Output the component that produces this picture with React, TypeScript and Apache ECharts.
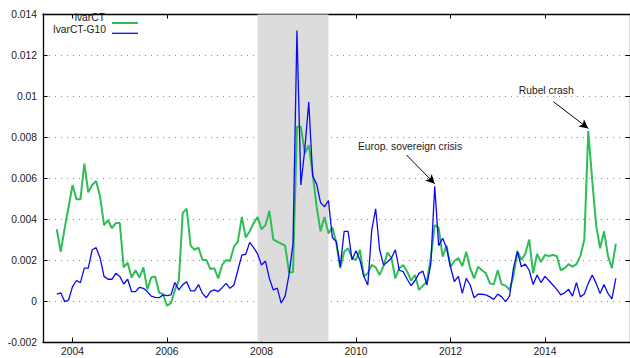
import { useEffect, useRef } from "react";
import * as echarts from "echarts";

// Monthly observations, first one is September 2003
const START_YEAR = 2003;
const START_MONTH = 9;

const lvarCT = [
  0.0035, 0.0024, 0.00355, 0.0046, 0.00566, 0.00496, 0.00496, 0.0067, 0.0053, 0.00566,
  0.00585, 0.0051, 0.0037, 0.00395, 0.00355, 0.0038, 0.0038, 0.00164, 0.00187, 0.00115,
  0.0015, 0.00115, 0.00164, 0.00057, 0.00115, 0.0012, 0.0004, 0.00034, -0.00023, -0.0001,
  0.00054, 0.001, 0.0043, 0.0045, 0.0027, 0.0025, 0.0026, 0.002, 0.002, 0.00156,
  0.0016, 0.0011, 0.00176, 0.002, 0.00195, 0.00265, 0.0029, 0.0041, 0.0031, 0.0034,
  0.0038, 0.0041, 0.0035, 0.0037, 0.0044, 0.003, 0.0029, 0.0028, 0.0027, 0.0014,
  0.0014, 0.0085, 0.0085, 0.0072, 0.0076, 0.0062, 0.0046, 0.0034, 0.0041, 0.0033,
  0.0036, 0.00284, 0.0016, 0.0024, 0.00257, 0.0021, 0.002, 0.0025, 0.0012, 0.00135,
  0.00176, 0.00164, 0.00127, 0.0017, 0.00236, 0.0021, 0.0011, 0.0016, 0.00176, 0.00143,
  0.001, 0.00127, 0.00054, 0.00075, 0.00094, 0.0021, 0.0037, 0.00358, 0.00216, 0.0027,
  0.00167, 0.00195, 0.0021, 0.0017, 0.0024, 0.0016, 0.0011, 0.00167, 0.0015, 0.00135,
  0.00086, 0.00081, 0.0015, 0.00081, 0.00075, 0.00054, 0.0012, 0.00244, 0.002, 0.0023,
  0.003, 0.00135, 0.0023, 0.0019, 0.00224, 0.0022, 0.00224, 0.0022, 0.0015, 0.0016,
  0.0018, 0.00167, 0.0018, 0.0022, 0.003, 0.0083, 0.0059, 0.0037, 0.00257, 0.0034,
  0.0022, 0.0016, 0.0028,
];

const lvarCTG10 = [
  0.00034, 0.0004, -0.00003, 0.00005, 0.0007, 0.001, 0.0009, 0.0016, 0.0016, 0.0025,
  0.0026, 0.0021, 0.0012, 0.00106, 0.00106, 0.00135, 0.0012, 0.00083, 0.00106, 0.00046,
  0.00046, 0.00067, 0.00062, 0.00046, 0.00024, 0.00018, 0.00016, 0.0003, 0.00026, 0.0003,
  0.0009, 0.00054, 0.0008, 0.00094, 0.00049, 0.00049, 0.0008, 0.00037, 0.00016, 0.00046,
  0.00054, 0.00046, 0.00065, 0.00086, 0.00062, 0.00078, 0.0015, 0.00224, 0.00228, 0.00286,
  0.0026, 0.0023, 0.00176, 0.00195, 0.0011, 0.00054, 0.00063, -0.0001, 0.00024, 0.0013,
  0.0028, 0.0132, 0.00566, 0.0074, 0.0097, 0.0061, 0.0057, 0.0048, 0.0046, 0.0049,
  0.0031, 0.0029, 0.00168, 0.0034, 0.0034, 0.002, 0.00245, 0.002, 0.0012, 0.00078,
  0.00346, 0.0045, 0.0025, 0.00176, 0.0019, 0.0021, 0.0025, 0.0015, 0.00143, 0.00106,
  0.00075, 0.001, 0.00135, 0.00146, 0.00078, 0.0018, 0.0056, 0.0027, 0.00306, 0.0026,
  0.00167, 0.00094, 0.0012, 0.00037, 0.0011, 0.00078, 0.00016, 0.00033, 0.00033, 0.0003,
  0.0002, 0.00008, 0.00034, 0.0002, -0.00003, 0.00024, 0.0016, 0.00241, 0.00167, 0.0018,
  0.0015, 0.0008, 0.00127, 0.0009, 0.0012, 0.001, 0.00078, 0.00057, 0.0003, 0.0004,
  0.00057, 0.00024, 0.0009, 0.0002, 0.00034, 0.00086, 0.00127, 0.00086, 0.00037, 0.0008,
  0.00037, 0.0001, 0.0011,
];

const yearTicks = [2004, 2006, 2008, 2010, 2012, 2014];

// Recession period, December 2007 to June 2009
const recessionStart = 2007 + 11 / 12;
const recessionEnd = 2009 + 5 / 12;

const crisisLabels = ["Europ. sovereign crisis", "Rubel crash"];

const X_MIN = 2003.375;
const X_MAX = 2015.8;
const Y_MIN = -0.002;
const Y_MAX = 0.014;

const GREEN = "#2fbd57";
const BLUE = "#0a0af5";
const FONT = "'Liberation Sans', Arial, Helvetica, sans-serif";

const monthToYear = (i: number) => START_YEAR + (START_MONTH - 1 + i) / 12;

export default function App() {
  const ref = useRef<HTMLDivElement>(null);

  useEffect(() => {
    if (!ref.current) return;
    const chart = echarts.init(ref.current, undefined, { renderer: "svg" });

    const frame = { color: "#000", width: 1.3 };
    const tick = { show: true, inside: true, length: 4.5, lineStyle: { color: "#000", width: 1 } };

    const xBase = {
      type: "value" as const,
      min: X_MIN,
      max: X_MAX,
      axisLine: { show: true, onZero: false, lineStyle: frame },
      splitLine: { show: false },
    };
    const yBase = {
      type: "value" as const,
      min: Y_MIN,
      max: Y_MAX,
      interval: 0.002,
      axisLine: { show: true, onZero: false, lineStyle: frame },
      axisTick: tick,
    };

    const greenData = lvarCT.map((v, i) => [monthToYear(i), v]);
    const blueData = lvarCTG10.map((v, i) => [monthToYear(i), v]);

    // peaks the arrows point at
    const euroIdx = 96;
    const rubelIdx = 135;
    const euroPeak = [monthToYear(euroIdx), lvarCTG10[euroIdx] + 0.00012];
    const rubelPeak = [monthToYear(rubelIdx), lvarCT[rubelIdx] + 0.00012];

    const textStyle = { color: "#1a1a1a", fontSize: 10.3, fontFamily: FONT };

    const arrowEnd = (coord: number[]) => ({
      coord,
      symbol: "arrow",
      symbolSize: [7, 9],
      itemStyle: { color: "#000" },
    });
    const arrowStart = (coord: number[]) => ({ coord, symbol: "none" });

    chart.setOption({
      animation: false,
      backgroundColor: "#ffffff",
      textStyle: { fontFamily: FONT },
      grid: { left: 43, right: -2, top: 14, bottom: 16 },
      xAxis: [
        {
          ...xBase,
          position: "bottom",
          axisTick: { ...tick, customValues: yearTicks },
          axisLabel: {
            customValues: yearTicks,
            formatter: (v: number) => String(Math.round(v)),
            ...textStyle,
            margin: 4,
          },
        },
        {
          ...xBase,
          position: "top",
          axisTick: { ...tick, customValues: yearTicks },
          axisLabel: { show: false },
        },
      ],
      yAxis: [
        {
          ...yBase,
          position: "left",
          axisLabel: {
            formatter: (v: number) => String(Math.round(v * 1000) / 1000),
            ...textStyle,
            margin: 6,
            padding: [0, 0, 4, 0],
          },
          splitLine: { show: true, lineStyle: { color: "#8a8a8a", width: 1, type: [1, 5] } },
        },
        {
          ...yBase,
          position: "right",
          axisLabel: { show: false },
          splitLine: { show: false },
        },
      ],
      series: [
        {
          name: "lvarCT",
          type: "line",
          data: greenData,
          symbol: "none",
          lineStyle: { color: GREEN, width: 2 },
          itemStyle: { color: GREEN },
          silent: true,
          markArea: {
            silent: true,
            itemStyle: { color: "#dcdcdc" },
            data: [
              [
                { xAxis: recessionStart, yAxis: Y_MIN + 0.00003 },
                { xAxis: recessionEnd, yAxis: Y_MAX - 0.00003 },
              ],
            ],
          },
          markLine: {
            silent: true,
            symbol: ["none", "arrow"],
            symbolSize: 9,
            label: { show: false },
            itemStyle: { color: "#000" },
            lineStyle: { color: "#000", width: 1, type: "solid" },
            data: [
              [arrowStart([2011.07, 0.00712]), arrowEnd(euroPeak)],
              [arrowStart([2014.18, 0.00972]), arrowEnd(rubelPeak)],
            ],
          },
          markPoint: {
            silent: true,
            symbol: "circle",
            symbolSize: 0,
            label: {
              show: true,
              position: "right",
              distance: 0,
              formatter: "{b}",
              ...textStyle,
            },
            data: [
              { name: crisisLabels[0], coord: [2010.04, 0.00756] },
              { name: crisisLabels[1], coord: [2013.445, 0.01029] },
            ],
          },
        },
        {
          name: "lvarCT-G10",
          type: "line",
          data: blueData,
          symbol: "none",
          lineStyle: { color: BLUE, width: 1.3 },
          itemStyle: { color: BLUE },
          silent: true,
        },
      ],
      graphic: [
        {
          type: "text",
          x: 105,
          y: 17.3,
          style: { text: "lvarCT", align: "right", verticalAlign: "middle", fill: "#1a1a1a", fontSize: 10.3, fontFamily: FONT },
        },
        {
          type: "line",
          shape: { x1: 112, y1: 23, x2: 138, y2: 23 },
          style: { stroke: GREEN, lineWidth: 2 },
        },
        {
          type: "text",
          x: 106,
          y: 29.7,
          style: { text: "lvarCT-G10", align: "right", verticalAlign: "middle", fill: "#1a1a1a", fontSize: 10.3, fontFamily: FONT },
        },
        {
          type: "line",
          shape: { x1: 112, y1: 33.3, x2: 138, y2: 33.3 },
          style: { stroke: BLUE, lineWidth: 1.3 },
        },
      ],
    });

    return () => chart.dispose();
  }, []);

  return (
    <div
      ref={ref}
      style={{ position: "fixed", left: 0, top: 0, width: 630, height: 358, background: "#fff" }}
    />
  );
}
